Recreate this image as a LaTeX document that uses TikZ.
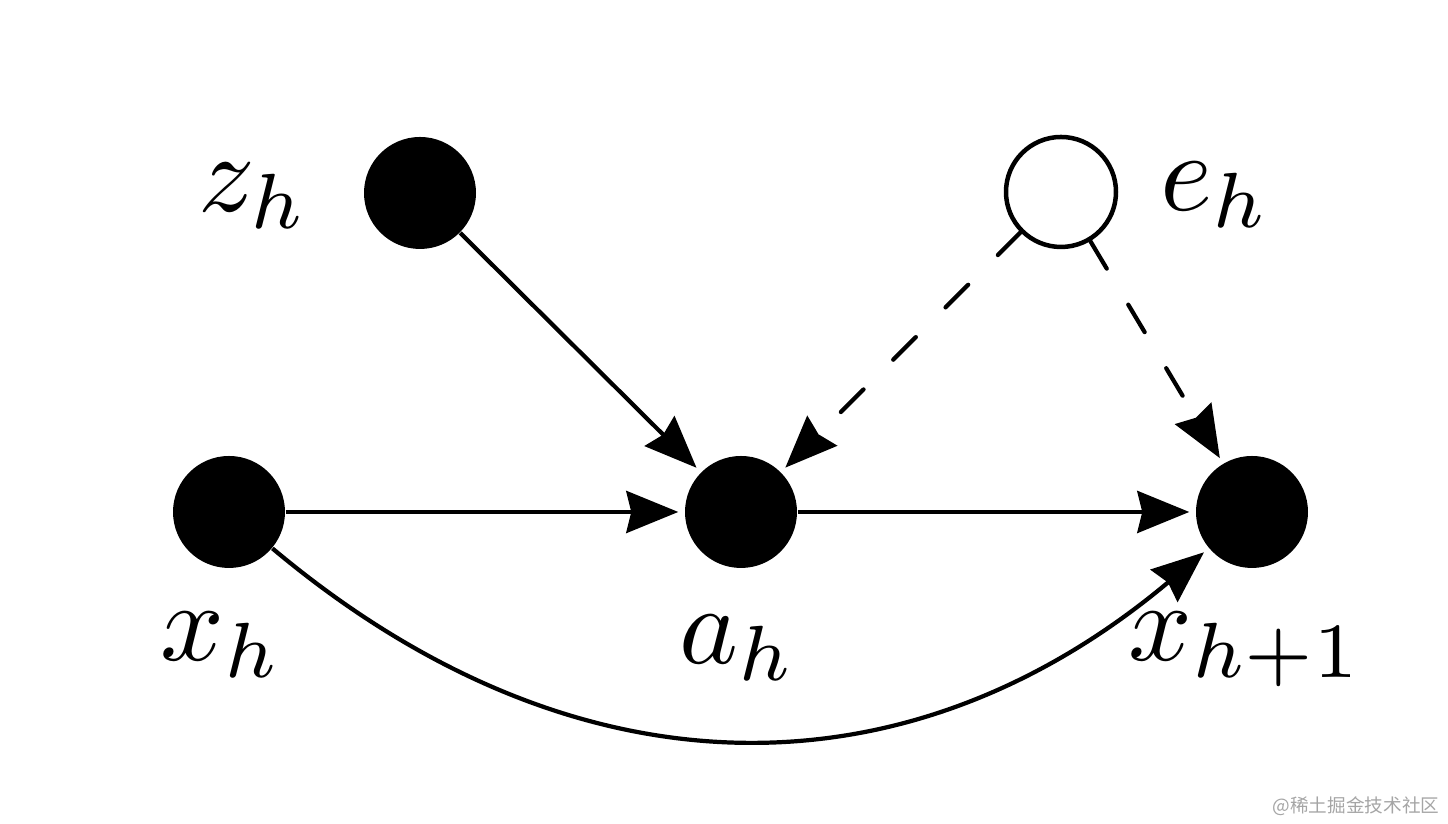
\documentclass[tikz,border=0pt]{standalone}
\usepackage{fontspec}
\newfontfamily\cjkfont{Noto Sans CJK SC}
\usetikzlibrary{arrows.meta}
\definecolor{wmgray}{RGB}{165,165,165}
\tikzset{
  full/.style={circle, fill=black, minimum size=1.12cm, inner sep=0pt},
  hollow/.style={circle, draw=black, fill=white, line width=0.045cm, minimum size=1.10cm, inner sep=0pt},
  lbl/.style={anchor=base west, inner sep=0pt, scale=3.18},
  edge/.style={line width=1.2pt, -{Stealth[length=0.52cm, width=0.42cm, inset=0.05cm]}, shorten >=0.06cm},
  dedge/.style={edge, line cap=round, dash pattern=on 0.32cm off 0.42cm}
}
\begin{document}
\begin{tikzpicture}
\useasboundingbox (0,0) rectangle (14.48,8.24);
\node[full] (zh) at (4.20,6.31) {};
\node[hollow] (eh) at (10.61,6.32) {};
\node[full] (xh) at (2.29,3.12) {};
\node[full] (ah) at (7.41,3.12) {};
\node[full] (xh1) at (12.52,3.12) {};

\node[lbl] (lz) at (1.96,6.12) {$z_h$};
\node[lbl] (le) at (11.58,6.13) {$e_h$};
\node[lbl] (lx) at (1.58,1.63) {$x_h$};
\node[lbl] (la) at (6.77,1.60) {$a_h$};
\node[lbl] (lx1) at (11.26,1.63) {$x_{h+1}$};

\draw[edge] (zh) -- (ah);
\draw[dedge] (eh) -- (ah);
\draw[dedge] (eh) -- (xh1);
\draw[edge] (xh) -- (ah);
\draw[edge] (ah) -- (xh1);
\draw[edge] (xh) to[out=-40, in=220, looseness=1.08] (xh1);

\node[anchor=east, inner sep=0pt, text=wmgray, font=\cjkfont\fontsize{5.3}{6}\selectfont] (wm) at (14.40,0.18) {@稀土掘金技术社区};
\end{tikzpicture}
\end{document}
